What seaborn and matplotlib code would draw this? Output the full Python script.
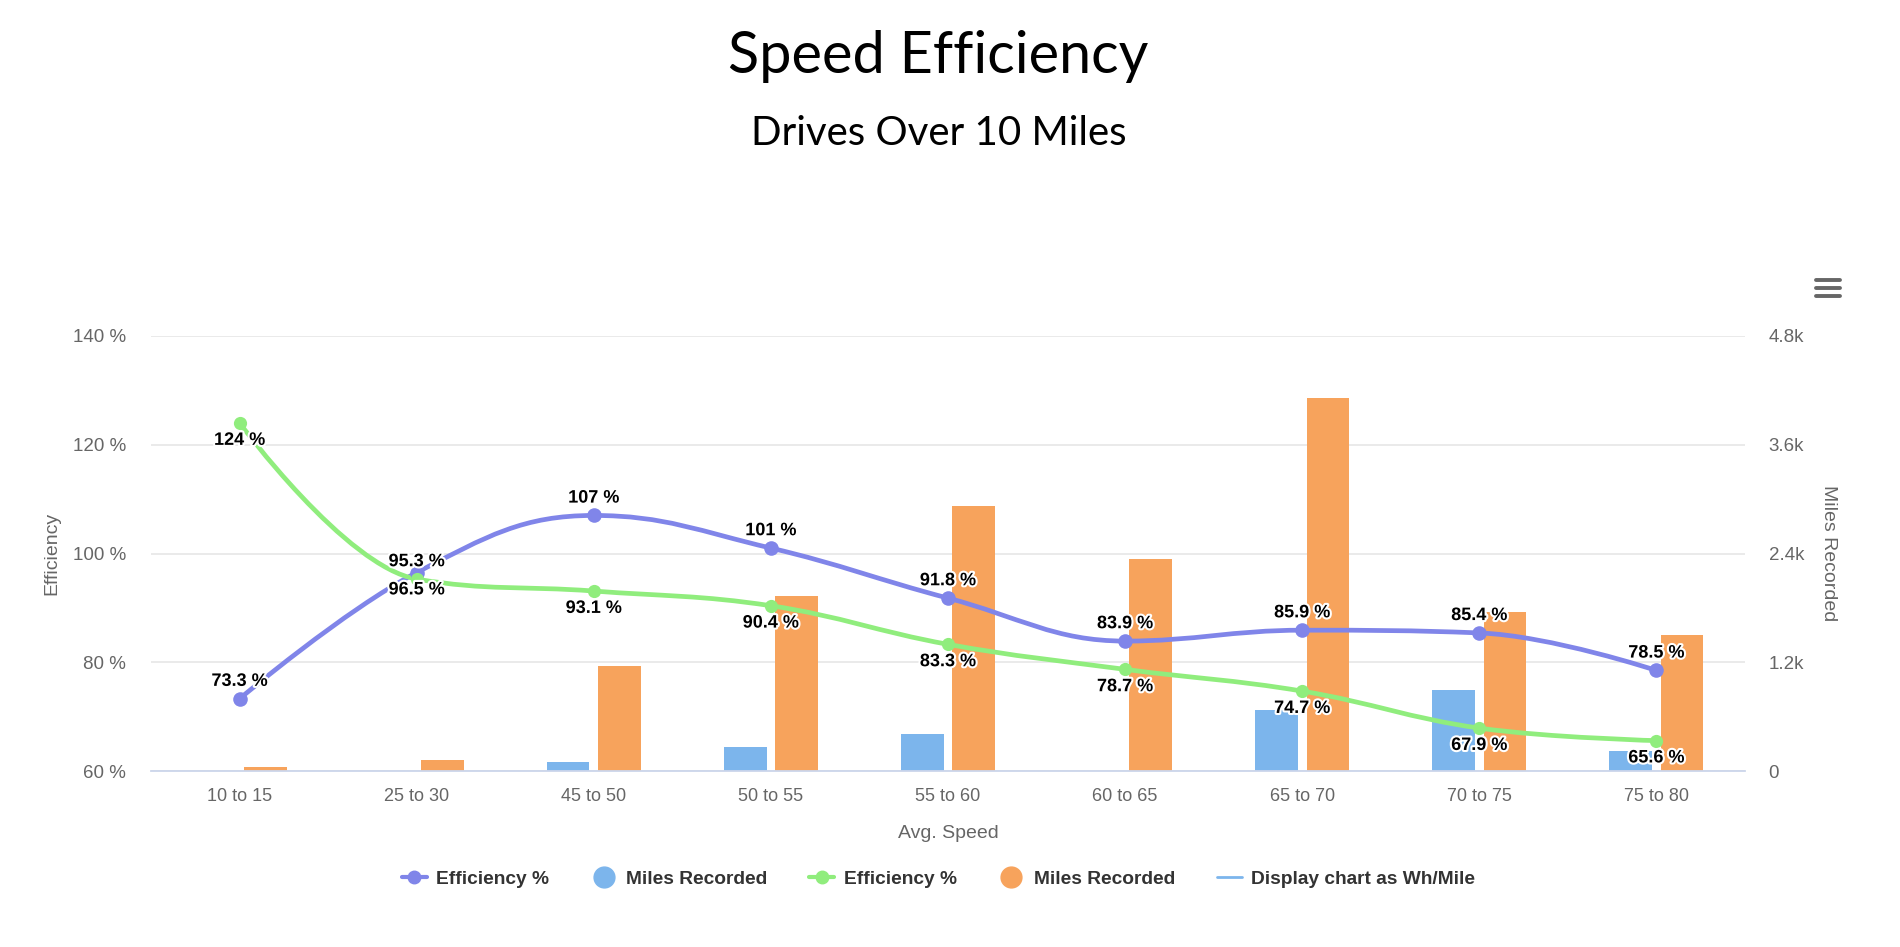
import pandas as pd
import matplotlib
matplotlib.use('Agg')
import matplotlib.pyplot as plt
import matplotlib.patheffects as pe
from matplotlib.path import Path
from matplotlib.patches import PathPatch
from matplotlib.lines import Line2D
import seaborn as sns

# Data
speeds = ['10 to 15', '25 to 30', '45 to 50', '50 to 55', '55 to 60',
          '60 to 65', '65 to 70', '70 to 75', '75 to 80']
eff_purple = [73.3, 96.5, 107, 101, 91.8, 83.9, 85.9, 85.4, 78.5]
eff_green = [124, 95.3, 93.1, 90.4, 83.3, 78.7, 74.7, 67.9, 65.6]
miles_blue = [0, 0, 100, 265, 410, 0, 675, 890, 225]
miles_orange = [45, 120, 1160, 1935, 2920, 2345, 4120, 1750, 1505]

eff_ticks = [60, 80, 100, 120, 140]
miles_ticks = [0, 1200, 2400, 3600, 4800]
miles_tick_labels = ['0', '1.2k', '2.4k', '3.6k', '4.8k']

# label side: 1 = above the point, -1 = below
purple_side = [1, -1, 1, 1, 1, 1, 1, 1, 1]
green_side = [-1, 1, -1, -1, -1, -1, -1, -1, -1]

c_blue = '#7cb5ec'
c_orange = '#f7a35c'
c_purple = '#8085e9'
c_green = '#90ed7d'
grey = '#666666'

sns.set_style('white')
plt.rcParams['font.family'] = ['Liberation Sans', 'DejaVu Sans']


def spline_path(xs, ys, smoothing=1.5):
    # highcharts-like spline through the points
    denom = smoothing + 1
    verts = [(xs[0], ys[0])]
    codes = [Path.MOVETO]
    prev_right = (xs[0], ys[0])
    n = len(xs)
    for i in range(1, n):
        x, y = xs[i], ys[i]
        lx, ly = xs[i - 1], ys[i - 1]
        if i < n - 1:
            nx, ny = xs[i + 1], ys[i + 1]
            left_x = (smoothing * x + lx) / denom
            left_y = (smoothing * y + ly) / denom
            right_x = (smoothing * x + nx) / denom
            right_y = (smoothing * y + ny) / denom
            if right_x != left_x:
                corr = (right_y - left_y) * (right_x - x) / (right_x - left_x) + y - right_y
                left_y += corr
                right_y += corr
            if left_y > ly and left_y > y:
                left_y = max(ly, y)
                right_y = 2 * y - left_y
            elif left_y < ly and left_y < y:
                left_y = min(ly, y)
                right_y = 2 * y - left_y
            if right_y > ny and right_y > y:
                right_y = max(ny, y)
                left_y = 2 * y - right_y
            elif right_y < ny and right_y < y:
                right_y = min(ny, y)
                left_y = 2 * y - right_y
        else:
            left_x, left_y = x, y
            right_x, right_y = x, y
        verts += [prev_right, (left_x, left_y), (x, y)]
        codes += [Path.CURVE4] * 3
        prev_right = (right_x, right_y)
    return Path(verts, codes)


fig = plt.figure(figsize=(19, 9.47), dpi=100)
ax_bar = fig.add_axes([0.0795, 0.1858, 0.8389, 0.4594])
ax_line = ax_bar.twinx()

# bars (right axis)
df_bars = pd.DataFrame({
    'speed': speeds * 2,
    'miles': miles_blue + miles_orange,
    'series': ['Miles Recorded (1)'] * len(speeds) + ['Miles Recorded (2)'] * len(speeds),
})
sns.barplot(data=df_bars, x='speed', y='miles', hue='series', palette=[c_blue, c_orange],
            width=0.58, gap=0.17, saturation=1, linewidth=0, legend=False, ax=ax_bar)
ax_bar.set_ylim(0, 4800)
ax_bar.set_yticks(miles_ticks)
ax_bar.set_yticklabels(miles_tick_labels)
ax_bar.yaxis.tick_right()
ax_bar.yaxis.set_label_position('right')
ax_bar.yaxis.grid(True, color='#e6e6e6', lw=1.2)
ax_bar.set_axisbelow(True)
ax_bar.set_ylabel('Miles Recorded', rotation=270, color=grey, fontsize=14)
ax_bar.yaxis.set_label_coords(1.058, 0.5)
ax_bar.set_xlabel('Avg. Speed', color=grey, fontsize=14)
ax_bar.xaxis.set_label_coords(0.5, -0.124)
ax_bar.tick_params(axis='y', length=0, pad=17, labelsize=13.5, labelcolor=grey)
ax_bar.tick_params(axis='x', length=0, pad=12, labelsize=13, labelcolor=grey)

# lines (left axis)
x_pos = list(range(len(speeds)))
for vals, color, side, ms in [(eff_purple, c_purple, purple_side, 10.5),
                              (eff_green, c_green, green_side, 9.5)]:
    ax_line.add_patch(PathPatch(spline_path(x_pos, vals), fill=False, edgecolor=color,
                                lw=3.4, capstyle='round', zorder=2))
    sns.scatterplot(x=x_pos, y=vals, color=color, s=ms ** 2, linewidth=0, zorder=3, ax=ax_line)
    for i, v in enumerate(vals):
        ax_line.annotate(f'{v:g} %', (x_pos[i], v), xytext=(0, 12.5 * side[i]),
                         textcoords='offset points', ha='center', va='center',
                         fontsize=13, fontweight='bold', color='black', zorder=4,
                         path_effects=[pe.withStroke(linewidth=3, foreground='white')])

ax_line.set_ylim(60, 140)
ax_line.set_yticks(eff_ticks)
ax_line.set_yticklabels([f'{t} %' for t in eff_ticks])
ax_line.yaxis.tick_left()
ax_line.yaxis.set_label_position('left')
ax_line.set_ylabel('Efficiency', color=grey, fontsize=14)
ax_line.yaxis.set_label_coords(-0.0566, 0.5)
ax_line.tick_params(axis='y', length=0, pad=18, labelsize=13.5, labelcolor=grey)
ax_line.set_xlim(-0.5, len(speeds) - 0.5)

for a in (ax_bar, ax_line):
    for s in ['top', 'left', 'right', 'bottom']:
        a.spines[s].set_visible(False)
ax_bar.spines['bottom'].set_visible(True)
ax_bar.spines['bottom'].set_color('#ccd6eb')
ax_bar.spines['bottom'].set_linewidth(1.3)

# legend
handles = [
    Line2D([], [], color=c_purple, lw=3, marker='o', markersize=9),
    Line2D([], [], ls='', marker='o', color=c_blue, markersize=15),
    Line2D([], [], color=c_green, lw=3, marker='o', markersize=9),
    Line2D([], [], ls='', marker='o', color=c_orange, markersize=15),
    Line2D([], [], color=c_blue, lw=2),
]
labels = ['Efficiency %', 'Miles Recorded', 'Efficiency %', 'Miles Recorded',
          'Display chart as Wh/Mile']
fig.legend(handles, labels, loc='center', bbox_to_anchor=(0.494, 0.072), ncol=5,
           frameon=False, prop={'weight': 'bold', 'size': 13.8}, handlelength=1.3,
           columnspacing=2.2, handletextpad=0.5, labelcolor='#333333')

# titles
fig.text(0.494, 0.940, 'Speed Efficiency', fontsize=41.5, family='Lato', ha='center',
         va='center', color='black')
fig.text(0.494, 0.859, 'Drives Over 10 Miles', fontsize=29, family='Lato', ha='center',
         va='center', color='black')

# menu icon
for yy in [280, 288, 296]:
    fig.add_artist(Line2D([1816 / 1900, 1840 / 1900], [1 - yy / 947] * 2, color=grey,
                          lw=2.8, solid_capstyle='round'))

fig.savefig('out.png', dpi=100)
